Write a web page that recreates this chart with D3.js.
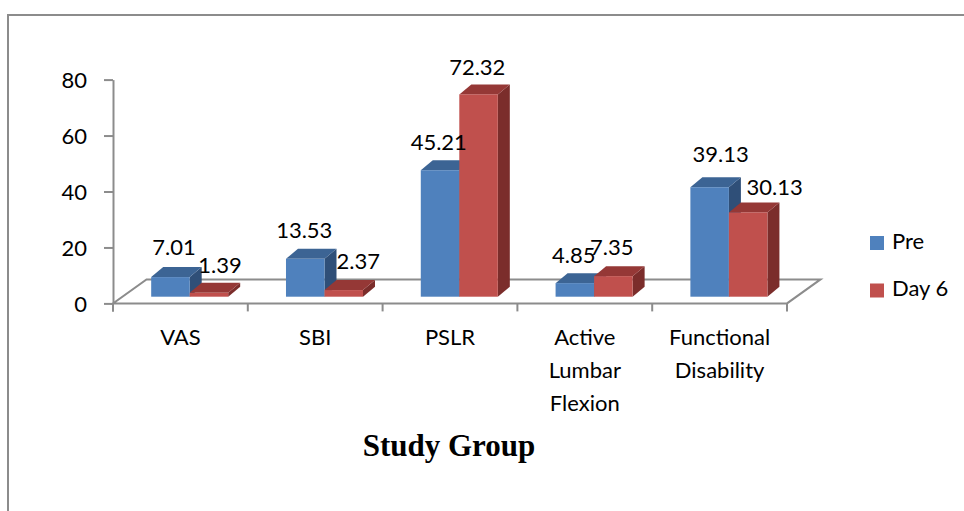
<!DOCTYPE html>
<html>
<head>
<meta charset="utf-8">
<script src="https://cdn.jsdelivr.net/npm/d3@7"></script>
<style>
  html, body { margin: 0; padding: 0; background: #fff; }
  svg { display: block; }
</style>
</head>
<body>
<svg id="chart" width="964" height="511"></svg>
<script>
// ---- data ----
const categories = [["VAS"], ["SBI"], ["PSLR"], ["Active", "Lumbar", "Flexion"], ["Functional", "Disability"]];
const seriesNames = ["Pre", "Day 6"];
const preValues = [7.01, 13.53, 45.21, 4.85, 39.13];
const day6Values = [1.39, 2.37, 72.32, 7.35, 30.13];
const yTicks = [0, 20, 40, 60, 80];
const title = "Study Group";

// ---- layout / style (not data) ----
const labelNudgeX = [[3.6, 11], [-1, 14.6], [-1.3, -1.3], [-1, -1.5], [11, 26.5]];
const labelNudgeY = [[-2, 0], [-0.5, -1], [0, 1], [0, -1], [-5, 2.7]];
const colors = {
  front: ["#4F81BD", "#C0504D"],
  top: ["#3C6494", "#953836"],
  side: ["#2F4F78", "#7B2D2B"]
};
const font = "Lato, 'Open Sans', sans-serif";
const axisColor = "#8c8c8c";

const svg = d3.select("#chart");

// frame
svg.append("rect").attr("x", 8).attr("y", 15).attr("width", 1000).attr("height", 600)
  .attr("fill", "none").attr("stroke", axisColor).attr("stroke-width", 2);

const y = d3.scaleLinear().domain([0, 80]).range([303.4, 79.6]);
const x0 = d3.scaleBand().domain(d3.range(categories.length)).range([113, 787]).padding(0);
const x1 = d3.scaleBand().domain(seriesNames).range([0, x0.bandwidth()]).paddingInner(0).paddingOuter(0.75);

const floorD = [33.5, -24];   // floor depth vector
const barOff = [9.3, -6.7];   // bar base offset into depth
const barD = [12, -10];       // bar depth vector

// floor
const fl = 113, fr = 787, fy = y(0);
const floorPts = [[fl, fy], [fr, fy], [fr + floorD[0], fy + floorD[1]], [fl + floorD[0], fy + floorD[1]]];
svg.append("polygon").attr("points", floorPts.map(p => p.join(",")).join(" "))
  .attr("fill", "#fff").attr("stroke", axisColor).attr("stroke-width", 2).attr("stroke-linejoin", "miter");

// y axis
const yAxis = d3.axisLeft(y).tickValues(yTicks).tickSize(9).tickPadding(17).tickSizeOuter(0);
const gy = svg.append("g").attr("transform", "translate(113,0)").call(yAxis);
gy.select(".domain").attr("stroke", axisColor).attr("stroke-width", 2);
gy.selectAll(".tick line").attr("stroke", axisColor).attr("stroke-width", 2);
gy.selectAll(".tick text").attr("font-family", font).attr("font-size", 22).attr("fill", "#000")
  .attr("dy", "0.36em");
// axis line extends down below floor
svg.append("line").attr("x1", 113).attr("x2", 113).attr("y1", fy).attr("y2", fy + 8)
  .attr("stroke", axisColor).attr("stroke-width", 2);

// category ticks
const bounds = d3.range(categories.length + 1).map(i => 113 + i * x0.step());
svg.selectAll(".ctick").data(bounds).enter().append("line")
  .attr("x1", d => d).attr("x2", d => d).attr("y1", fy).attr("y2", fy + 8)
  .attr("stroke", axisColor).attr("stroke-width", 2);

// category labels
const catG = svg.append("g");
categories.forEach((lines, i) => {
  const t = catG.append("text").attr("text-anchor", "middle")
    .attr("font-family", font).attr("font-size", 22).attr("fill", "#000");
  lines.forEach((ln, j) => {
    t.append("tspan").attr("x", x0(i) + x0.bandwidth() / 2).attr("y", 345 + j * 33).text(ln);
  });
});

// bars
const allSeries = [preValues, day6Values];
const barsG = svg.append("g");
const labelsG = svg.append("g");
categories.forEach((c, i) => {
  seriesNames.forEach((s, k) => {
    const v = allSeries[k][i];
    const xa = x0(i) + x1(s) + barOff[0];
    const xb = xa + x1.bandwidth();
    const yb = y(0) + barOff[1];
    const yt = y(v) + barOff[1];
    const [dx, dy] = barD;
    const g = barsG.append("g");
    g.append("polygon").attr("points", [[xb, yb], [xb + dx, yb + dy], [xb + dx, yt + dy], [xb, yt]].map(p => p.join(",")).join(" "))
      .attr("fill", colors.side[k]);
    g.append("polygon").attr("points", [[xa, yt], [xb, yt], [xb + dx, yt + dy], [xa + dx, yt + dy]].map(p => p.join(",")).join(" "))
      .attr("fill", colors.top[k]);
    g.append("rect").attr("x", xa).attr("y", yt).attr("width", xb - xa).attr("height", yb - yt)
      .attr("fill", colors.front[k]);
    labelsG.append("text")
      .attr("x", (xa + xb) / 2 + labelNudgeX[i][k])
      .attr("y", yt + dy - 10 + labelNudgeY[i][k])
      .attr("text-anchor", "middle").attr("font-family", font).attr("font-size", 22).attr("fill", "#000")
      .text(v.toFixed(2));
  });
});

// legend
const legend = svg.append("g");
seriesNames.forEach((s, k) => {
  legend.append("rect").attr("x", 870).attr("y", 236 + k * 47.5).attr("width", 14).attr("height", 14)
    .attr("fill", colors.front[k]);
  legend.append("text").attr("x", 892).attr("y", 248.5 + k * 47.5)
    .attr("font-family", font).attr("font-size", 22).attr("fill", "#000").text(s);
});

// title
svg.append("text").attr("x", 449).attr("y", 456).attr("text-anchor", "middle")
  .attr("font-family", "'Liberation Serif', 'Times New Roman', serif").attr("font-weight", "bold")
  .attr("font-size", 31).attr("fill", "#000").text(title);
</script>
</body>
</html>
